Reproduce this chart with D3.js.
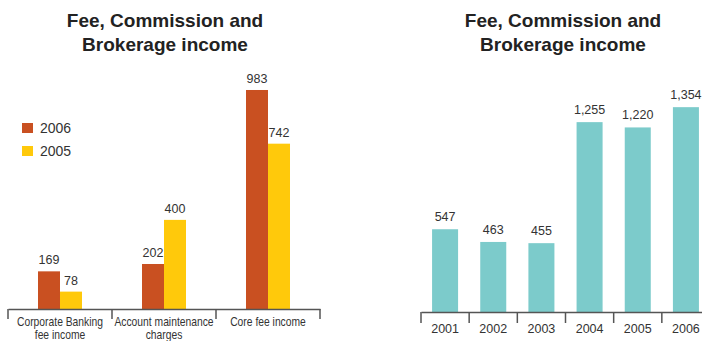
<!DOCTYPE html>
<html>
<head>
<meta charset="utf-8">
<script src="https://cdn.jsdelivr.net/npm/d3@7/dist/d3.min.js"></script>
<style>
  html, body { margin: 0; padding: 0; background: #fff; }
  svg { display: block; }
  text { font-family: "Liberation Sans", Arial, Helvetica, sans-serif; fill: #333; }
</style>
</head>
<body>
<svg id="chart" width="702" height="341"></svg>
<script>
// Left panel: fee income by type, 2006 vs 2005
const feeCategories = [["Corporate Banking", "fee income"], ["Account maintenance", "charges"], ["Core fee income"]];
const feeSeries = ["2006", "2005"];
const fee2006 = [169, 202, 983];
const fee2005 = [78, 400, 742];

// Right panel: total fee income by year
const years = ["2001", "2002", "2003", "2004", "2005", "2006"];
const yearValues = [547, 463, 455, 1255, 1220, 1354];

const titleLines = ["Fee, Commission and", "Brokerage income"];
const seriesColors = { "2006": "#C95021", "2005": "#FFC90B" };
const tealColor = "#7CCBCB";
const axisColor = "#555";

const svg = d3.select("#chart");
const fmt = d3.format(",");

function drawTitle(cx) {
  const t = svg.append("text")
    .attr("text-anchor", "middle")
    .attr("font-size", 19)
    .attr("font-weight", "bold")
    .style("fill", "#222");
  titleLines.forEach((line, i) => {
    t.append("tspan").attr("x", cx).attr("y", 27 + i * 24).text(line);
  });
}

// ---------- Left panel ----------
(function () {
  const base = 309;
  const x = d3.scaleBand().domain(d3.range(feeCategories.length)).range([8, 320]).paddingInner(0).paddingOuter(0);
  const xs = d3.scaleBand().domain(feeSeries).range([0, 44]);
  const y = d3.scaleLinear().domain([0, 1000]).range([base, base - 222.8]);
  const barW = xs.bandwidth();

  drawTitle(165);

  const rows = feeCategories.map((c, i) => ({ i, vals: [fee2006[i], fee2005[i]] }));
  const g = svg.append("g");
  const groups = g.selectAll("g.grp").data(rows).join("g")
    .attr("class", "grp")
    .attr("transform", d => `translate(${x(d.i) + x.bandwidth() / 2 - 22},0)`);

  groups.each(function (d) {
    const sel = d3.select(this);
    feeSeries.forEach((s, k) => {
      const v = d.vals[k];
      sel.append("rect")
        .attr("x", xs(s))
        .attr("y", y(v))
        .attr("width", barW)
        .attr("height", base - y(v))
        .attr("fill", seriesColors[s]);
      sel.append("text")
        .attr("x", xs(s) + barW / 2)
        .attr("y", y(v) - 7)
        .attr("text-anchor", "middle")
        .attr("font-size", 12.5)
        .text(fmt(v));
    });
  });

  // axis line with ticks at category boundaries
  const axis = d3.axisBottom(x).tickSize(0).tickFormat(() => "").tickSizeOuter(0);
  const ag = svg.append("g").attr("transform", `translate(0,${base})`).call(axis);
  ag.select(".domain").attr("stroke", axisColor).attr("stroke-width", 1.5);
  const edges = x.domain().map(i => x(i)).concat([x.range()[1]]);
  ag.selectAll("line.edge").data(edges).join("line")
    .attr("class", "edge")
    .attr("x1", d => d).attr("x2", d => d)
    .attr("y1", 0).attr("y2", 10)
    .attr("stroke", axisColor).attr("stroke-width", 1.5);

  // category labels, set in a condensed style
  feeCategories.forEach((lines, i) => {
    const cx = x(i) + x.bandwidth() / 2;
    const t = svg.append("text")
      .attr("text-anchor", "middle")
      .attr("font-size", 12)
      .attr("transform", `translate(${cx},0) scale(0.86,1)`);
    lines.forEach((ln, j) => {
      t.append("tspan").attr("x", 0).attr("y", 326 + j * 13).text(ln);
    });
  });

  // legend
  const lg = svg.append("g").attr("transform", "translate(22,123)");
  feeSeries.forEach((s, k) => {
    lg.append("rect").attr("x", 0).attr("y", k * 23).attr("width", 11).attr("height", 10).attr("fill", seriesColors[s]);
    lg.append("text").attr("x", 18).attr("y", k * 23 + 10).attr("font-size", 14).text(s);
  });
})();

// ---------- Right panel ----------
(function () {
  const base = 312;
  const x = d3.scaleBand().domain(years).range([421, 710]).paddingInner(0.46).paddingOuter(0.23);
  const y = d3.scaleLinear().domain([0, 1400]).range([base, base - 211.8]);

  drawTitle(563);

  svg.append("g").selectAll("rect").data(years).join("rect")
    .attr("x", d => x(d))
    .attr("y", (d, i) => y(yearValues[i]))
    .attr("width", x.bandwidth())
    .attr("height", (d, i) => base - y(yearValues[i]))
    .attr("fill", tealColor);

  svg.append("g").selectAll("text").data(years).join("text")
    .attr("x", d => x(d) + x.bandwidth() / 2)
    .attr("y", (d, i) => y(yearValues[i]) - 8)
    .attr("text-anchor", "middle")
    .attr("font-size", 12.5)
    .text((d, i) => fmt(yearValues[i]));

  const axis = d3.axisBottom(x).tickSize(0).tickSizeOuter(0).tickPadding(12);
  const ag = svg.append("g").attr("transform", `translate(0,${base})`).call(axis);
  ag.select(".domain").attr("stroke", axisColor).attr("stroke-width", 1.5);
  ag.selectAll(".tick text").attr("font-size", 12.5).style("fill", "#333").style("font-family", "'Liberation Sans', Arial, sans-serif");
  const step = x.step();
  const edges = years.map(d => x(d) - x.paddingOuter() * step).concat([x.range()[1]]);
  ag.selectAll("line.edge").data(edges).join("line")
    .attr("class", "edge")
    .attr("x1", d => d).attr("x2", d => d)
    .attr("y1", 0).attr("y2", 11)
    .attr("stroke", axisColor).attr("stroke-width", 1.5);
})();
</script>
</body>
</html>
